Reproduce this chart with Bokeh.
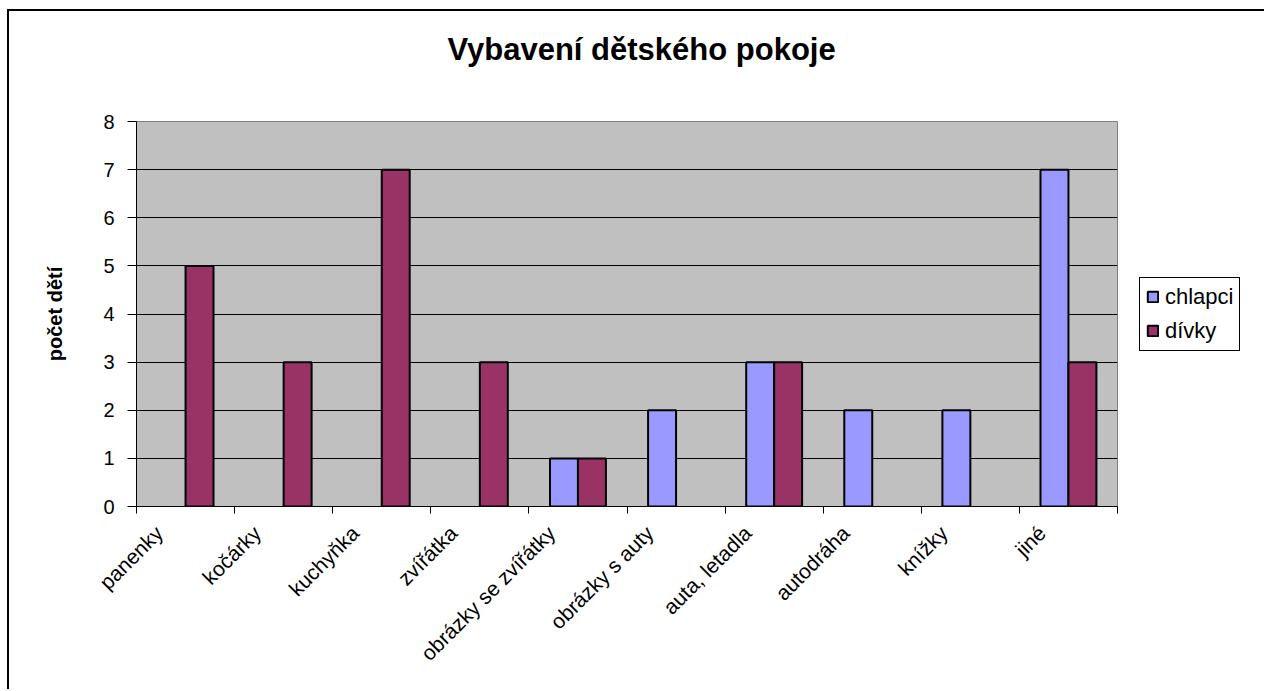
from math import pi
from bokeh.plotting import figure
from bokeh.models import (ColumnDataSource, FixedTicker, Legend, LegendItem,
                          Range1d, Title)
from bokeh.embed import file_html
from bokeh.resources import INLINE

# ---- data ----
categories = ["panenky", "kočárky", "kuchyňka", "zvířátka", "obrázky se zvířátky",
              "obrázky s auty", "auta, letadla", "autodráha", "knížky", "jiné"]
chlapci = [0, 0, 0, 0, 1, 2, 3, 2, 2, 7]
divky = [5, 3, 7, 3, 1, 0, 3, 0, 0, 3]
series_names = ["chlapci", "dívky"]
y_ticks = [0, 1, 2, 3, 4, 5, 6, 7, 8]
title_text = "Vybavení dětského pokoje"
y_label = "počet dětí"

FONT = "Liberation Sans"
C_CHL = "#9999ff"
C_DIV = "#993366"
BAR_W = 0.285
LABEL_SHIFT = -0.27   # rotated labels sit left of the category centre

n = len(categories)
centers = [i + 0.5 for i in range(n)]
label_pos = [c + LABEL_SHIFT for c in centers]


def src(vals, shift):
    xs = [c + shift for c, v in zip(centers, vals) if v != 0]
    ys = [v for v in vals if v != 0]
    return ColumnDataSource(dict(x=xs, top=ys))


p = figure(frame_width=981, frame_height=385, title=None,
           x_range=Range1d(0, n), y_range=Range1d(0, 8),
           output_backend="svg", toolbar_location=None,
           min_border_left=127, min_border_right=145,
           min_border_top=110, min_border_bottom=183,
           background_fill_color="#c0c0c0", border_fill_color="white",
           outline_line_color="#808080", outline_line_width=1)
p.styles = {"border-left": "2px solid black", "border-top": "2px solid black",
            "margin-left": "7px", "margin-top": "9px"}

r1 = p.vbar(x="x", top="top", bottom=0, width=BAR_W, source=src(chlapci, -BAR_W / 2),
            fill_color=C_CHL, line_color="black", line_width=2)
r2 = p.vbar(x="x", top="top", bottom=0, width=BAR_W, source=src(divky, BAR_W / 2),
            fill_color=C_DIV, line_color="black", line_width=2)

# spacer (closest to the frame) then the real title
p.add_layout(Title(text=" ", text_font_size="2px", standoff=46), "above")
p.add_layout(Title(text=title_text, align="left", offset=311, standoff=10,
                   text_font=FONT, text_font_size="31px", text_font_style="bold",
                   text_color="black"), "above")

# y axis
yt = FixedTicker(ticks=y_ticks)
p.yaxis.ticker = yt
p.ygrid.ticker = yt
p.ygrid.grid_line_color = "black"
p.ygrid.grid_line_width = 1
p.xgrid.visible = False
p.yaxis.axis_label = y_label
p.yaxis.axis_label_text_font = FONT
p.yaxis.axis_label_text_font_style = "bold"
p.yaxis.axis_label_text_font_size = "20px"
p.yaxis.axis_label_text_color = "black"
p.yaxis.axis_label_standoff = 34
p.yaxis.major_label_text_font = FONT
p.yaxis.major_label_text_font_size = "20px"
p.yaxis.major_label_text_color = "black"
p.yaxis.major_label_standoff = 13
p.yaxis.major_tick_out = 9
p.yaxis.major_tick_in = 0
p.yaxis.minor_tick_out = 0
p.yaxis.minor_tick_in = 0
p.yaxis.axis_line_color = "black"
p.yaxis.major_tick_line_color = "black"

# x axis
xt = FixedTicker(ticks=label_pos, minor_ticks=list(range(n + 1)))
p.xaxis.ticker = xt
p.xaxis.major_label_overrides = {c: lab for c, lab in zip(label_pos, categories)}
p.xaxis.major_label_orientation = pi / 4
p.xaxis.major_label_text_font = FONT
p.xaxis.major_label_text_font_size = "21px"
p.xaxis.major_label_text_color = "black"
p.xaxis.major_label_standoff = 16
p.xaxis.major_tick_out = 0
p.xaxis.major_tick_in = 0
p.xaxis.minor_tick_out = 7
p.xaxis.minor_tick_in = 0
p.xaxis.minor_tick_line_color = "black"
p.xaxis.axis_line_color = "black"

legend = Legend(items=[LegendItem(label=series_names[0], renderers=[r1]),
                       LegendItem(label=series_names[1], renderers=[r2])],
                location="left", orientation="vertical",
                label_text_font=FONT, label_text_font_size="22px",
                label_text_color="black",
                label_height=24, glyph_height=13, glyph_width=13,
                label_standoff=6, spacing=8, padding=6, margin=22,
                border_line_color="black", border_line_width=1, border_line_alpha=1,
                background_fill_color="white", background_fill_alpha=1)
p.add_layout(legend, "right")

open("out.html", "w").write(file_html(p, INLINE))
